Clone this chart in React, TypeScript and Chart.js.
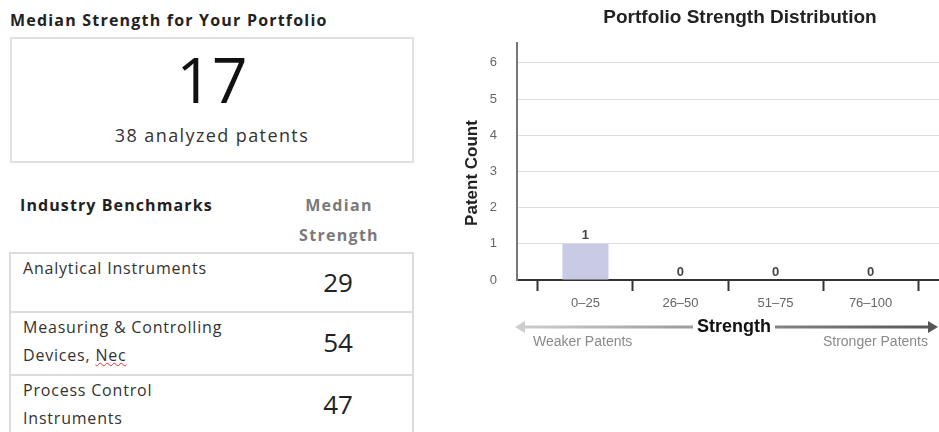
import React, { useEffect, useRef } from 'react';
import { Chart, registerables } from 'chart.js';

Chart.register(...registerables);

// ---- Data ----
const categories = ['0–25', '26–50', '51–75', '76–100'];
const patentCounts = [1, 0, 0, 0];
const yTickValues = [0, 1, 2, 3, 4, 5, 6];
const medianStrength = 17;
const analyzedPatents = 38;
const benchmarkIndustries = [
  ['Analytical Instruments'],
  ['Measuring & Controlling', 'Devices, Nec'],
  ['Process Control', 'Instruments'],
];
const benchmarkMedians = [29, 54, 47];

const CHART_FONT = '"Liberation Sans", Arial, sans-serif';
const DOC_FONT = '"Open Sans", Lato, sans-serif';

const barLabelPlugin = {
  id: 'barLabels',
  afterDatasetsDraw(chart: any) {
    const ctx = chart.ctx;
    const meta = chart.getDatasetMeta(0);
    ctx.save();
    ctx.font = `bold 13px ${CHART_FONT}`;
    ctx.fillStyle = '#444';
    ctx.textAlign = 'center';
    ctx.textBaseline = 'middle';
    meta.data.forEach((el: any, i: number) => {
      ctx.fillText(String(patentCounts[i]), el.x, el.y - 8);
    });
    ctx.restore();
  },
};

const decorPlugin = {
  id: 'decor',
  afterDraw(chart: any) {
    const ctx = chart.ctx;
    const area = chart.chartArea;
    ctx.save();
    // chart title
    ctx.font = `bold 19px ${CHART_FONT}`;
    ctx.fillStyle = '#222';
    ctx.textAlign = 'center';
    ctx.textBaseline = 'middle';
    ctx.fillText('Portfolio Strength Distribution', 280, 18);

    // y axis title
    ctx.save();
    ctx.translate(12, 173);
    ctx.rotate(-Math.PI / 2);
    ctx.font = `bold 17px ${CHART_FONT}`;
    ctx.fillStyle = '#222';
    ctx.fillText('Patent Count', 0, 0);
    ctx.restore();

    // Strength axis caption with arrows
    const y = 327;
    const label = 'Strength';
    ctx.font = `bold 18px ${CHART_FONT}`;
    const w = ctx.measureText(label).width;
    const cx = 274;
    ctx.fillStyle = '#111';
    ctx.fillText(label, cx, y);
    const x0 = area.left - 2;
    const x1 = chart.width - 1;
    const grad = ctx.createLinearGradient(x0, 0, x1, 0);
    grad.addColorStop(0, '#cfcfcf');
    grad.addColorStop(1, '#555');
    ctx.strokeStyle = grad;
    ctx.fillStyle = grad;
    ctx.lineWidth = 3;
    ctx.beginPath();
    ctx.moveTo(x0 + 6, y);
    ctx.lineTo(cx - w / 2 - 4, y);
    ctx.moveTo(cx + w / 2 + 4, y);
    ctx.lineTo(x1 - 6, y);
    ctx.stroke();
    ctx.beginPath();
    ctx.moveTo(x0, y);
    ctx.lineTo(x0 + 10, y - 6);
    ctx.lineTo(x0 + 10, y + 6);
    ctx.closePath();
    ctx.fill();
    ctx.beginPath();
    ctx.moveTo(x1, y);
    ctx.lineTo(x1 - 10, y - 6);
    ctx.lineTo(x1 - 10, y + 6);
    ctx.closePath();
    ctx.fill();

    ctx.font = `14px ${CHART_FONT}`;
    ctx.fillStyle = '#8a8a8a';
    ctx.textAlign = 'left';
    ctx.fillText('Weaker Patents', 73, 342);
    ctx.textAlign = 'right';
    ctx.fillText('Stronger Patents', 468, 342);
    ctx.restore();
  },
};

function DistributionChart() {
  const ref = useRef<HTMLCanvasElement | null>(null);
  useEffect(() => {
    if (!ref.current) return;
    const points = patentCounts.map((v, i) => ({ x: i + 0.5, y: v }));
    const xTicks: number[] = [];
    for (let i = 0; i <= categories.length * 2; i++) xTicks.push(i / 2);
    const chart = new Chart(ref.current, {
      type: 'bar',
      data: {
        datasets: [
          {
            data: points as any,
            backgroundColor: '#c9cbe4',
            categoryPercentage: 1,
            barPercentage: 0.97,
          },
        ],
      },
      options: {
        animation: false,
        responsive: false,
        maintainAspectRatio: false,
        layout: { padding: { top: 43, left: 0, right: 0, bottom: 0 } },
        plugins: {
          legend: { display: false },
          tooltip: { enabled: false },
          title: { display: false },
        },
        scales: {
          x: {
            type: 'linear',
            offset: false,
            min: -0.22,
            max: categories.length + 0.22,
            afterBuildTicks: (s: any) => {
              s.ticks = xTicks.map((v) => ({ value: v }));
            },
            afterFit: (s: any) => {
              s.height = 152;
            },
            ticks: {
              autoSkip: false,
              maxRotation: 0,
              padding: 5,
              color: '#666',
              font: { family: CHART_FONT, size: 13 },
              callback: (v: any) => (Number.isInteger(v) ? '' : categories[Math.floor(v)]),
            },
            grid: {
              offset: false,
              drawOnChartArea: false,
              tickLength: 11,
              tickWidth: 2,
              tickColor: (c: any) => (c.tick && Number.isInteger(c.tick.value) ? '#333' : 'rgba(0,0,0,0)'),
            },
            border: { color: '#333', width: 2 },
          },
          y: {
            min: 0,
            max: 6.55,
            afterBuildTicks: (s: any) => {
              s.ticks = yTickValues.map((v) => ({ value: v }));
            },
            afterFit: (s: any) => {
              s.width = 57;
            },
            ticks: {
              padding: 20,
              color: '#666',
              font: { family: CHART_FONT, size: 13 },
            },
            grid: { color: '#dedede', drawTicks: false },
            border: { color: '#777', width: 2 },
          },
        },
      } as any,
      plugins: [barLabelPlugin, decorPlugin],
    });
    return () => chart.destroy();
  }, []);
  return (
    <canvas
      ref={ref}
      width={479}
      height={432}
      style={{ position: 'absolute', left: 460, top: 0, width: 479, height: 432 }}
    />
  );
}

export default function App() {
  const rowTops = [252, 311, 374];
  const rowHeights = [59, 63, 80];
  const valueOffsets = [13, 14, 13];
  return (
    <div
      style={{
        position: 'fixed',
        left: 0,
        top: 0,
        width: 939,
        height: 432,
        overflow: 'hidden',
        background: '#fff',
        fontFamily: DOC_FONT,
      }}
    >
      <div
        style={{
          position: 'absolute',
          left: 10,
          top: 9,
          lineHeight: '22px',
          fontSize: 16,
          fontWeight: 700,
          letterSpacing: '1.2px',
          color: '#222',
          whiteSpace: 'nowrap',
        }}
      >
        Median Strength for Your Portfolio
      </div>
      <div
        style={{
          position: 'absolute',
          left: 10,
          top: 37,
          width: 404,
          height: 126,
          border: '2px solid #e0e0e0',
          boxSizing: 'border-box',
        }}
      />
      <div
        style={{
          position: 'absolute',
          left: 10,
          width: 404,
          top: 48,
          textAlign: 'center',
          fontSize: 62,
          lineHeight: '62px',
          color: '#111',
        }}
      >
        {medianStrength}
      </div>
      <div
        style={{
          position: 'absolute',
          left: 10,
          width: 404,
          top: 123,
          textAlign: 'center',
          fontSize: 18,
          lineHeight: '24px',
          letterSpacing: '1.4px',
          color: '#333',
        }}
      >
        {analyzedPatents} analyzed patents
      </div>

      <div
        style={{
          position: 'absolute',
          left: 20,
          top: 191,
          fontSize: 16,
          lineHeight: '28px',
          fontWeight: 700,
          letterSpacing: '1.1px',
          color: '#222',
          whiteSpace: 'nowrap',
        }}
      >
        Industry Benchmarks
      </div>
      <div
        style={{
          position: 'absolute',
          left: 279,
          width: 120,
          top: 190,
          textAlign: 'center',
          fontSize: 16,
          lineHeight: '30px',
          fontWeight: 700,
          letterSpacing: '1.3px',
          color: '#7a7a7a',
        }}
      >
        Median
        <br />
        Strength
      </div>

      {benchmarkIndustries.map((lines, i) => (
        <div
          key={i}
          style={{
            position: 'absolute',
            left: 9,
            top: rowTops[i],
            width: 405,
            height: rowHeights[i],
            borderTop: '2px solid #dcdcdc',
            borderLeft: '2px solid #dcdcdc',
            borderRight: '2px solid #dcdcdc',
            boxSizing: 'border-box',
          }}
        >
          <div
            style={{
              position: 'absolute',
              left: 12,
              top: 0,
              fontSize: 16,
              lineHeight: '28px',
              letterSpacing: '0.8px',
              color: '#333',
              whiteSpace: 'nowrap',
            }}
          >
            {lines.map((ln, j) => (
              <div key={j}>
                {ln === 'Devices, Nec' ? (
                  <>
                    Devices,{' '}
                    <span
                      style={{
                        textDecorationLine: 'underline',
                        textDecorationStyle: 'wavy',
                        textDecorationColor: '#e03030',
                        textDecorationThickness: '1px',
                      }}
                    >
                      Nec
                    </span>
                  </>
                ) : (
                  ln
                )}
              </div>
            ))}
          </div>
          <div
            style={{
              position: 'absolute',
              left: 265,
              width: 124,
              top: valueOffsets[i],
              textAlign: 'center',
              fontSize: 26,
              lineHeight: '30px',
              color: '#222',
            }}
          >
            {benchmarkMedians[i]}
          </div>
        </div>
      ))}

      <DistributionChart />
    </div>
  );
}
